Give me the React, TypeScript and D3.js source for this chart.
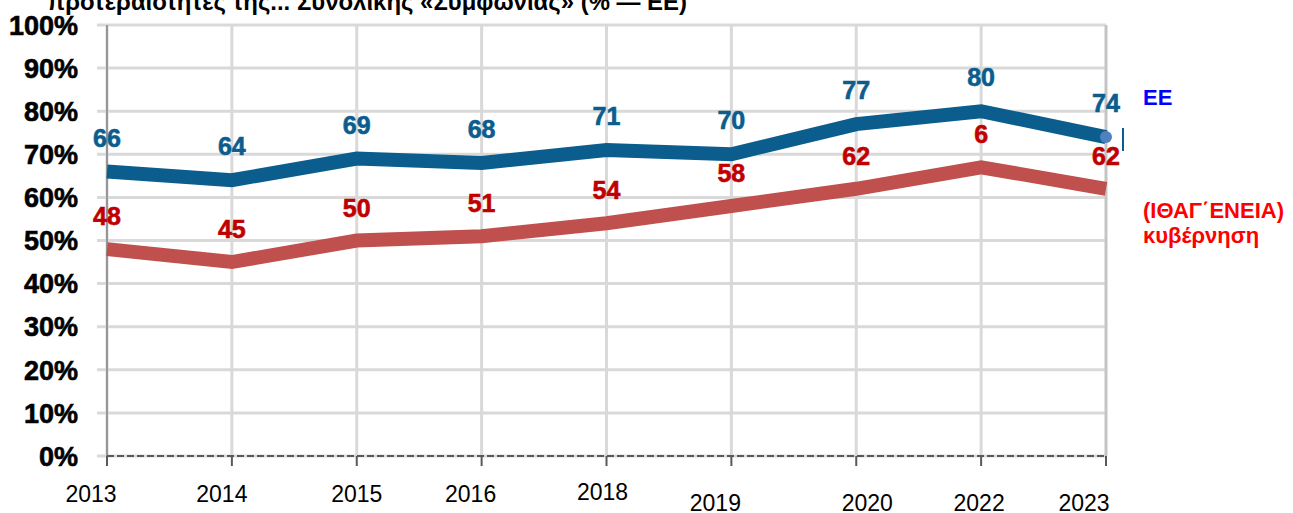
import React from 'react';
import * as d3 from 'd3';

// values
const years = ['2013', '2014', '2015', '2016', '2018', '2019', '2020', '2022', '2023'];
const euValues = [66, 64, 69, 68, 71, 70, 77, 80, 74];
const govValues = [48, 45, 50, 51, 54, 58, 62, 67, 62];
// the 2022 label of the government series is cut to "6" in the original
const govLabels = ['48', '45', '50', '51', '54', '58', '62', '6', '62'];
const yTicks = [0, 10, 20, 30, 40, 50, 60, 70, 80, 90, 100];

const title = 'προτεραιότητες της... Συνολικής «Συμφωνίας» (% — ΕΕ)';
const euName = 'ΕΕ';
const govName = ['(ΙΘΑΓ΄ΕΝΕΙΑ)', 'κυβέρνηση'];

// the year labels are not evenly placed in the original
const yearShift = [-16, -10, 0, -11, -4, -16, 11, -2, -22];
const yearDy = [0, 0, 0, 0, -2, 9, 9, 9, 9];

const W = 1293;
const H = 513;
const BLUE = '#0b5d8e';
const RED_LINE = '#c0504d';
const RED_TEXT = '#c00000';
const GRID = '#d9d9d9';

export default function App() {
  const x = d3.scalePoint<string>().domain(years).range([107, 1106]);
  const y = d3.scaleLinear().domain([0, 100]).range([456, 25]);

  const line = d3.line<number>()
    .x((d, i) => x(years[i]) as number)
    .y(d => y(d));

  return (
    <div style={{ position: 'fixed', left: 0, top: 0 }}>
      <svg width={W} height={H} style={{ display: 'block', background: '#fff' }}
        fontFamily="'Liberation Sans', Arial, sans-serif">
        <defs>
          <clipPath id="plotClip">
            <rect x={0} y={0} width={1123} height={H} />
          </clipPath>
        </defs>

        {/* title, cut at the top edge */}
        <text x={47} y={10} fontSize={23} fontWeight="bold" fill="#000"
          textLength={640} lengthAdjust="spacingAndGlyphs">{title}</text>

        {/* horizontal grid */}
        {yTicks.map(t => (
          <line key={'h' + t} x1={97} x2={1106} y1={y(t)} y2={y(t)} stroke={GRID} strokeWidth={3} />
        ))}
        {/* vertical grid */}
        {years.map(yr => (
          <line key={'v' + yr} x1={x(yr)} x2={x(yr)} y1={y(100)} y2={y(0)} stroke={GRID} strokeWidth={3} />
        ))}
        <line x1={1106} x2={1106} y1={y(100)} y2={y(0)} stroke="#c4c4c4" strokeWidth={2.5} />

        {/* axes */}
        <line x1={107} x2={107} y1={y(100)} y2={y(0)} stroke="#7f7f7f" strokeWidth={1.5} />
        <line x1={107} x2={1106} y1={y(0)} y2={y(0)} stroke="#595959" strokeWidth={2} strokeDasharray="7 3" />
        {years.map(yr => (
          <line key={'t' + yr} x1={x(yr)} x2={x(yr)} y1={y(0)} y2={y(0) + 10} stroke="#595959" strokeWidth={2} />
        ))}

        {/* y tick labels */}
        {yTicks.map(t => (
          <text key={'yl' + t} x={78} y={y(t)} dy="0.36em" textAnchor="end" fontSize={27}
            fontWeight="bold" fill="#000" stroke="#000" strokeWidth={0.6}>{t}%</text>
        ))}

        {/* x tick labels */}
        {years.map((yr, i) => (
          <text key={'xl' + yr} x={(x(yr) as number) + yearShift[i]} y={494 + yearDy[i]} dy="0.36em"
            textAnchor="middle" fontSize={23} fill="#000">{yr}</text>
        ))}

        {/* series */}
        <path d={line(govValues) || ''} fill="none" stroke={RED_LINE} strokeWidth={14} strokeLinejoin="miter" />
        <path d={line(euValues) || ''} fill="none" stroke={BLUE} strokeWidth={14} strokeLinejoin="miter" />
        <circle cx={x(years[years.length - 1])} cy={y(euValues[euValues.length - 1])} r={6} fill="#4f81bd" />
        <line x1={1123} x2={1123} y1={128} y2={151} stroke={BLUE} strokeWidth={2} />

        {/* data labels */}
        <g clipPath="url(#plotClip)" fontSize={25} fontWeight="bold">
          {euValues.map((v, i) => (
            <text key={'el' + i} x={x(years[i])} y={y(v) - 34} dy="0.36em" textAnchor="middle"
              fill={BLUE} stroke={BLUE} strokeWidth={0.6}>{v}</text>
          ))}
          {govValues.map((v, i) => (
            <text key={'gl' + i} x={x(years[i])} y={y(v) - 33} dy="0.36em" textAnchor="middle"
              fill={RED_TEXT} stroke={RED_TEXT} strokeWidth={0.6}>{govLabels[i]}</text>
          ))}
        </g>

        {/* legend labels */}
        <text x={1143} y={105} fontSize={22} fontWeight="bold" fill="#0000ff">{euName}</text>
        <text x={1143} y={218} fontSize={22} fontWeight="bold" fill="#ff0000">{govName[0]}</text>
        <text x={1143} y={243} fontSize={22} fontWeight="bold" fill="#ff0000">{govName[1]}</text>
      </svg>
    </div>
  );
}
